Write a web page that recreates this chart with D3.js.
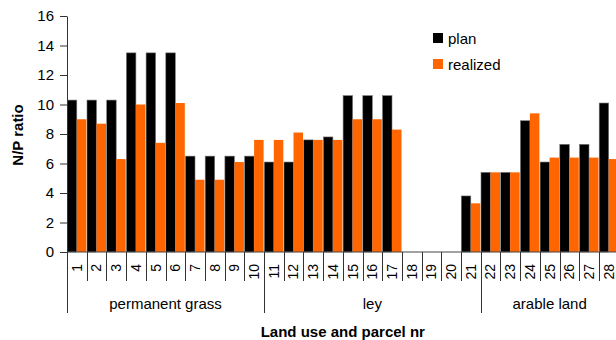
<!DOCTYPE html>
<html>
<head>
<meta charset="utf-8">
<script src="https://cdn.jsdelivr.net/npm/d3@7"></script>
<style>
  body { margin: 0; overflow: hidden; background: #fff; }
  svg { display: block; font-family: "Liberation Sans", Arial, sans-serif; }
</style>
</head>
<body>
<svg width="616" height="340"></svg>
<script>
// parcel numbers and N/P ratios (18-20 have no bars)
var parcels = d3.range(1, 29);
var plan = [10.3, 10.3, 10.3, 13.5, 13.5, 13.5, 6.5, 6.5, 6.5, 6.5,
            6.1, 6.1, 7.6, 7.8, 10.6, 10.6, 10.6, null, null, null,
            3.8, 5.4, 5.4, 8.9, 6.1, 7.3, 7.3, 10.1];
var realized = [9.0, 8.7, 6.3, 10.0, 7.4, 10.1, 4.9, 4.9, 6.1, 7.6,
                7.6, 8.1, 7.6, 7.6, 9.0, 9.0, 8.3, null, null, null,
                3.3, 5.4, 5.4, 9.4, 6.4, 6.4, 6.4, 6.3];
var groups = [
  {name: "permanent grass", from: 1, to: 10},
  {name: "ley", from: 11, to: 21},
  {name: "arable land", from: 22, to: 28}
];
var seriesNames = ["plan", "realized"];
var colors = {plan: "#000000", realized: "#ff6600"};
var yTicks = [0, 2, 4, 6, 8, 10, 12, 14, 16];

var svg = d3.select("svg"),
    margin = {top: 16, left: 67, bottom: 88},
    plotRight = 618.6,
    baseY = 340 - margin.bottom;

var x = d3.scaleBand()
    .domain(parcels)
    .range([margin.left, plotRight])
    .paddingInner(0);

var xs = d3.scaleBand()
    .domain(seriesNames)
    .range([0.3, x.bandwidth() - 0.4]);

var y = d3.scaleLinear()
    .domain([0, 16])
    .range([baseY, margin.top]);

// bars
var rows = parcels.map(function(p, i) {
  return {parcel: p, plan: plan[i], realized: realized[i]};
});

seriesNames.forEach(function(s) {
  svg.append("g")
    .selectAll("rect")
    .data(rows.filter(function(d) { return d[s] != null; }))
    .enter().append("rect")
      .attr("x", function(d) { return x(d.parcel) + xs(s); })
      .attr("y", function(d) { return y(d[s]); })
      .attr("width", xs.bandwidth())
      .attr("height", function(d) { return baseY - y(d[s]); })
      .attr("fill", colors[s])
      .attr("stroke", s == "plan" ? "#777" : "none")
      .attr("stroke-width", 0.6);
});

// y axis
var yAxis = svg.append("g")
    .attr("transform", "translate(" + margin.left + ",0)")
    .call(d3.axisLeft(y).tickValues(yTicks).tickSize(7).tickPadding(6).tickSizeOuter(0));
yAxis.select(".domain").attr("stroke", "#333");
yAxis.selectAll(".tick line").attr("stroke", "#333");
yAxis.selectAll("text")
    .attr("font-size", 15)
    .attr("fill", "#000")
    .attr("font-family", "Liberation Sans, Arial, sans-serif");

svg.append("text")
    .attr("transform", "translate(23," + (y(8) + 1) + ") rotate(-90)")
    .attr("text-anchor", "middle")
    .attr("font-size", 15)
    .attr("font-weight", "bold")
    .text("N/P ratio");

// x baseline
svg.append("line")
    .attr("x1", margin.left).attr("x2", plotRight)
    .attr("y1", baseY).attr("y2", baseY)
    .attr("stroke", "#444");

// category separators
var groupEdges = [groups[0].from].concat(groups.map(function(g) { return g.to + 1; }));
parcels.forEach(function(p) {
  var xx = Math.round(x(p)) + 0.5;
  var isGroup = groupEdges.indexOf(p) >= 0;
  svg.append("line")
    .attr("x1", xx).attr("x2", xx)
    .attr("y1", baseY).attr("y2", isGroup ? 313 : 281)
    .attr("stroke", "#333");
});

// parcel numbers
svg.append("g")
  .selectAll("text")
  .data(parcels)
  .enter().append("text")
    .attr("transform", function(d) {
      return "translate(" + (x(d) + x.bandwidth() / 2) + ",264) rotate(-90)";
    })
    .attr("text-anchor", "end")
    .attr("dy", "0.35em")
    .attr("font-size", 14)
    .text(function(d) { return d; });

// group labels
svg.append("g")
  .selectAll("text")
  .data(groups)
  .enter().append("text")
    .attr("x", function(g) { return (x(g.from) + x(g.to) + x.bandwidth()) / 2; })
    .attr("y", 309)
    .attr("text-anchor", "middle")
    .attr("font-size", 15)
    .text(function(g) { return g.name; });

svg.append("text")
    .attr("x", (margin.left + plotRight) / 2)
    .attr("y", 337)
    .attr("text-anchor", "middle")
    .attr("font-size", 15)
    .attr("font-weight", "bold")
    .text("Land use and parcel nr");

// legend
var legend = svg.append("g")
    .selectAll("g")
    .data(seriesNames)
    .enter().append("g")
    .attr("transform", function(d, i) { return "translate(433," + (33 + i * 26) + ")"; });

legend.append("rect")
    .attr("width", 10).attr("height", 10)
    .attr("fill", function(d) { return colors[d]; });

legend.append("text")
    .attr("x", 15)
    .attr("y", 11)
    .attr("font-size", 15)
    .text(function(d) { return d; });
</script>
</body>
</html>
